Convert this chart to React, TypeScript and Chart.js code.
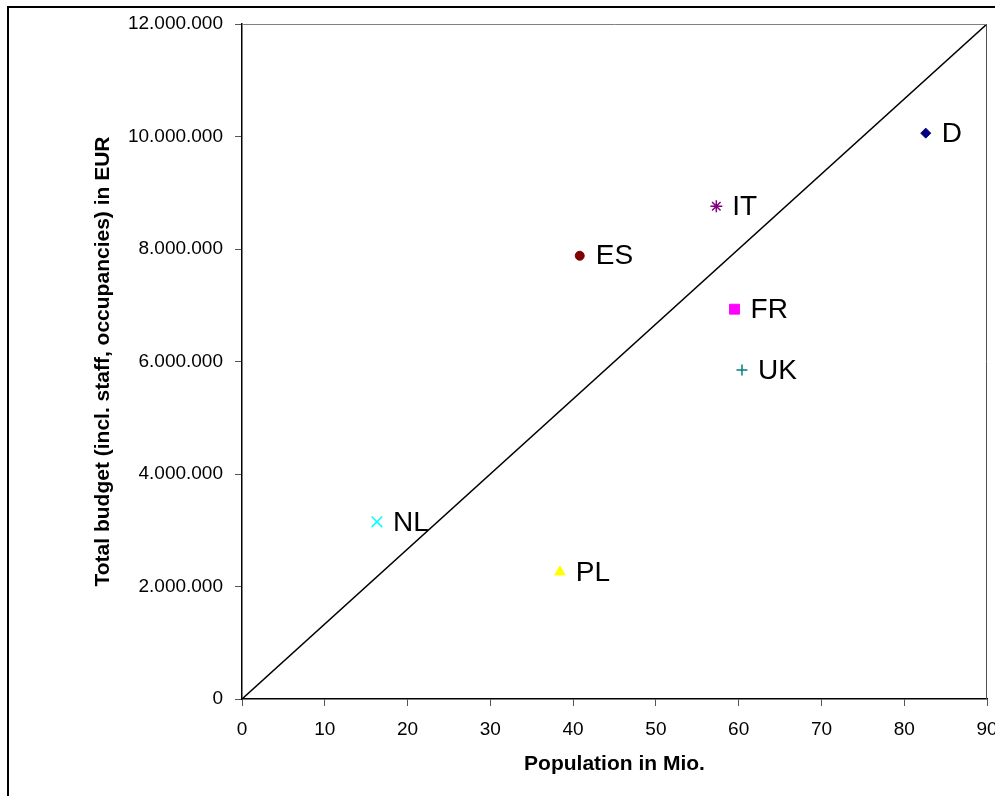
import React, { useEffect, useRef } from "react";
import { Chart, registerables } from "chart.js";

Chart.register(...registerables);

// ---- data ----
const countries = ["D", "IT", "ES", "FR", "UK", "NL", "PL"];
const population = [82.6, 57.3, 40.8, 59.5, 60.4, 16.3, 38.4];
const budget = [10060000, 8760000, 7880000, 6930000, 5850000, 3150000, 2260000];
const diagonalX = [0, 90];
const diagonalY = [0, 12000000];

const xTitle = "Population in Mio.";
const yTitle = "Total budget (incl. staff, occupancies) in EUR";

// ---- styles ----
const markerColors = ["#000080", "#800080", "#800000", "#FF00FF", "#008080", "#00FFFF", "#FFFF00"];
const markerStyles = ["rectRot", "star", "circle", "rect", "cross", "crossRot", "triangle"];
const markerRadii = [5, 6, 4.5, 7, 5.5, 7.5, 6];
const markerBorders = [1, 1.5, 1, 1, 1.5, 1.5, 1];

const FONT = "'Liberation Sans', Arial, sans-serif";

const fmt = (v: number) => String(Math.round(v)).replace(/\B(?=(\d{3})+(?!\d))/g, ".");

const W = 1020;
const H = 796;

const framePlugin = {
  id: "frame",
  beforeDraw(chart: any) {
    const { ctx } = chart;
    ctx.save();
    ctx.fillStyle = "#ffffff";
    ctx.fillRect(0, 0, chart.width, chart.height);
    ctx.fillStyle = "#000000";
    ctx.fillRect(7, 6, chart.width, 2);
    ctx.fillRect(7, 6, 2, chart.height);
    ctx.restore();
  },
  afterDraw(chart: any) {
    const { ctx, chartArea } = chart;
    ctx.save();
    ctx.strokeStyle = "#808080";
    ctx.lineWidth = 1;
    ctx.beginPath();
    ctx.moveTo(chartArea.left, chartArea.top + 0.5);
    ctx.lineTo(chartArea.right, chartArea.top + 0.5);
    ctx.stroke();
    ctx.strokeStyle = "#505050";
    ctx.beginPath();
    ctx.moveTo(chartArea.right - 0.5, chartArea.top);
    ctx.lineTo(chartArea.right - 0.5, chartArea.bottom);
    ctx.stroke();
    ctx.restore();
  },
};

const labelPlugin = {
  id: "pointLabels",
  afterDatasetsDraw(chart: any) {
    const { ctx } = chart;
    ctx.save();
    ctx.font = `28px ${FONT}`;
    ctx.fillStyle = "#000000";
    ctx.textAlign = "left";
    ctx.textBaseline = "middle";
    countries.forEach((name, i) => {
      const meta = chart.getDatasetMeta(i);
      const pt = meta.data[0];
      if (!pt) return;
      ctx.fillText(name, pt.x + 16, pt.y + 1);
    });
    ctx.restore();
  },
};

export default function App() {
  const canvasRef = useRef<HTMLCanvasElement | null>(null);

  useEffect(() => {
    if (!canvasRef.current) return;
    const pointSets = countries.map((name, i) => ({
      label: name,
      data: [{ x: population[i], y: budget[i] }],
      pointStyle: markerStyles[i],
      pointRadius: markerRadii[i],
      pointBorderWidth: markerBorders[i],
      backgroundColor: markerColors[i],
      borderColor: markerColors[i],
      showLine: false,
    }));
    const lineSet = {
      label: "diagonal",
      data: diagonalX.map((x, i) => ({ x, y: diagonalY[i] })),
      showLine: true,
      borderColor: "#000000",
      borderWidth: 1.5,
      pointRadius: 0,
      backgroundColor: "#000000",
    };
    const chart = new Chart(canvasRef.current, {
      type: "scatter",
      data: { datasets: [...pointSets, lineSet] as any },
      options: {
        animation: false,
        responsive: false,
        maintainAspectRatio: false,
        layout: { padding: { left: 0, top: 24, right: W - 987, bottom: 0 } },
        plugins: { legend: { display: false }, tooltip: { enabled: false } },
        scales: {
          x: {
            type: "linear",
            min: 0,
            max: 90,
            ticks: {
              stepSize: 10,
              color: "#000000",
              font: { family: FONT, size: 19 },
              padding: 12,
              maxRotation: 0,
            },
            grid: {
              drawOnChartArea: false,
              drawTicks: true,
              tickLength: 7,
              tickColor: "#555555",
            },
            border: { display: true, color: "#000000", width: 1.5 },
            title: {
              display: true,
              text: xTitle,
              color: "#000000",
              font: { family: FONT, size: 21, weight: "bold" },
              padding: { top: 0, bottom: 19 },
            },
            afterFit(scale: any) {
              scale.height = H - 699;
            },
          },
          y: {
            type: "linear",
            min: 0,
            max: 12000000,
            ticks: {
              stepSize: 2000000,
              color: "#000000",
              font: { family: FONT, size: 19 },
              padding: 12,
              callback: (v: any) => fmt(Number(v)),
            },
            grid: {
              drawOnChartArea: false,
              drawTicks: true,
              tickLength: 7,
              tickColor: "#555555",
            },
            border: { display: true, color: "#000000", width: 1.5 },
            title: {
              display: true,
              text: yTitle,
              color: "#000000",
              font: { family: FONT, size: 21, weight: "bold" },
              padding: { top: 91, bottom: 0 },
            },
            afterFit(scale: any) {
              scale.width = 242;
            },
          },
        },
      },
      plugins: [framePlugin, labelPlugin],
    });
    return () => chart.destroy();
  }, []);

  return (
    <div
      style={{
        position: "fixed",
        left: 0,
        top: 0,
        width: 995,
        height: 796,
        overflow: "hidden",
        background: "#ffffff",
      }}
    >
      <canvas ref={canvasRef} width={W} height={H} style={{ display: "block", width: W, height: H }} />
    </div>
  );
}
